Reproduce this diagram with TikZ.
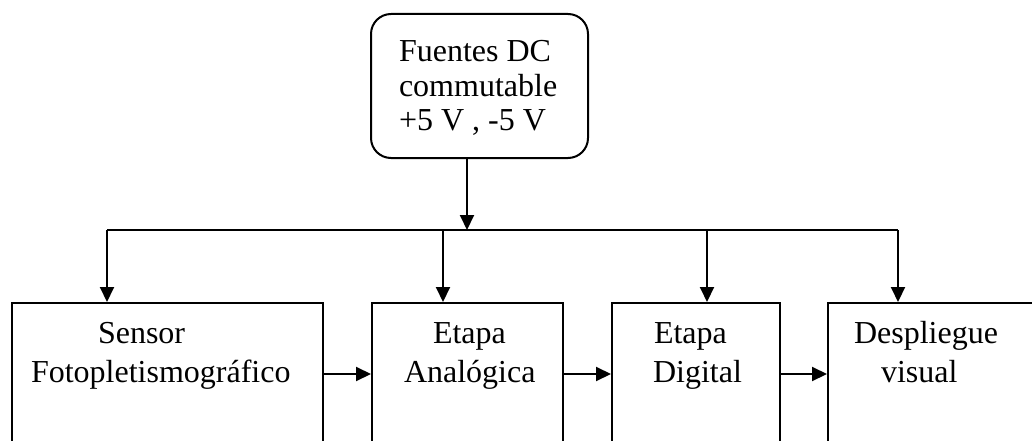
\documentclass[tikz,border=0pt]{standalone}
\usepackage{fontspec}
\setmainfont{Liberation Serif}
\usetikzlibrary{arrows.meta}
\begin{document}
\begin{tikzpicture}[x=1pt,y=-1pt,
  line width=2pt,
  boxstyle/.style={draw,line width=2pt,rectangle,inner sep=0pt,anchor=north west},
  roundbox/.style={boxstyle,rounded corners=20pt},
  txt/.style={inner sep=0pt,anchor=base west,font=\fontsize{32}{36}\selectfont},
  arr/.style={-{Triangle[length=15pt,width=14pt]}}]
\useasboundingbox (0,0) rectangle (1032,441);
\clip (0,0) rectangle (1032,441);
% top box
\node[roundbox,minimum width=217pt,minimum height=144pt] (top) at (370,13) {};
\node[txt] (t1) at (398,62) {Fuentes DC};
\node[txt] (t2) at (398,97) {commutable};
\node[txt] (t3) at (398,130) {+5 V , -5 V};
% bottom boxes
\node[boxstyle,minimum width=311pt,minimum height=180pt] (b1) at (11,302) {};
\node[boxstyle,minimum width=191pt,minimum height=180pt] (b2) at (371,302) {};
\node[boxstyle,minimum width=168pt,minimum height=180pt] (b3) at (611,302) {};
\node[boxstyle,minimum width=240pt,minimum height=180pt] (b4) at (827,302) {};
\node[txt] (s1) at (97,343) {Sensor};
\node[txt] (s2) at (30,382) {Fotopletismográfico};
\node[txt] (e1) at (432,343) {Etapa};
\node[txt] (e2) at (403,382) {Analógica};
\node[txt] (g1) at (653,343) {Etapa};
\node[txt] (g2) at (652,382) {Digital};
\node[txt] (v1) at (853,343) {Despliegue};
\node[txt] (v2) at (880,382) {visual};
% bus
\coordinate (j) at (467,230);
\coordinate (d1) at (107,230);
\coordinate (d2) at (443,230);
\coordinate (d3) at (707,230);
\coordinate (d4) at (898,230);
\draw[arr] (top.south -| j) -- (j);
\draw (d1) -- (d4);
\draw[arr] (d1) -- (d1 |- b1.north);
\draw[arr] (d2) -- (d2 |- b2.north);
\draw[arr] (d3) -- (d3 |- b3.north);
\draw[arr] (d4) -- (d4 |- b4.north);
% chain
\coordinate (h) at (0,374);
\draw[arr] (b1.east |- h) -- (b2.west |- h);
\draw[arr] (b2.east |- h) -- (b3.west |- h);
\draw[arr] (b3.east |- h) -- (b4.west |- h);
\end{tikzpicture}
\end{document}
